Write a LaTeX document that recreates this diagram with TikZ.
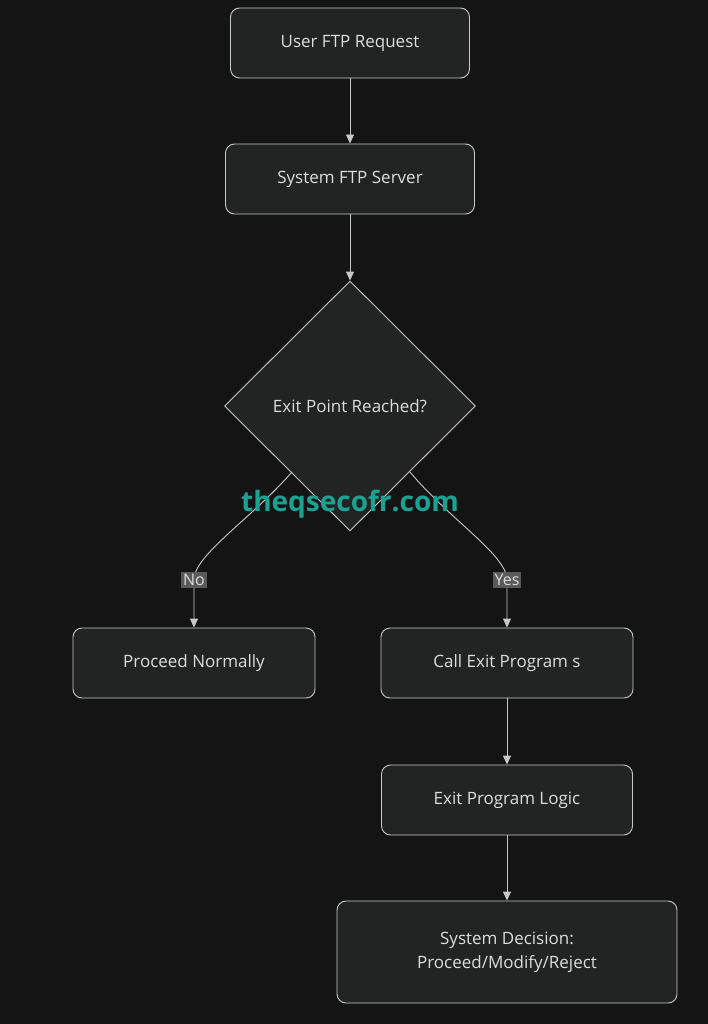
\documentclass[tikz,border=0pt]{standalone}
\usepackage{fontspec}
\setmainfont{Open Sans}
\usetikzlibrary{shapes.geometric,arrows.meta}
\definecolor{bg}{HTML}{141414}
\definecolor{boxfill}{HTML}{222323}
\definecolor{boxline}{HTML}{C8C8C8}
\definecolor{txt}{HTML}{DDDDDD}
\definecolor{lbl}{HTML}{5A5A5A}
\definecolor{wm}{HTML}{1AA393}
\begin{document}
\begin{tikzpicture}[x=1pt,y=-1pt,
  box/.style={draw=boxline,fill=boxfill,rounded corners=9pt,line width=0.9pt,text=txt,font=\fontsize{17}{24}\selectfont,align=center,inner sep=0pt},
  dia/.style={draw=boxline,fill=boxfill,diamond,line width=0.9pt,text=txt,font=\fontsize{17}{22}\selectfont,minimum width=251pt,minimum height=250pt,inner sep=0pt},
  lab/.style={fill=lbl,text=txt,font=\fontsize{16}{20}\selectfont,inner sep=2pt},
  arr/.style={draw=boxline,line width=0.9pt,-{Triangle[length=9pt,width=8pt]}}]
\fill[bg] (0,0) rectangle (708,1024);
\node[box,minimum width=239pt,minimum height=70pt] (a) at (350,43) {User FTP Request};
\node[box,minimum width=249pt,minimum height=70pt] (b) at (350,179) {System FTP Server};
\node[dia] (c) at (350,406) {Exit Point Reached?};
\node[box,minimum width=242pt,minimum height=70pt] (d) at (194,663) {Proceed Normally};
\node[box,minimum width=252pt,minimum height=70pt] (e) at (507,663) {Call Exit Program s};
\node[box,minimum width=251pt,minimum height=70pt] (f) at (507,800) {Exit Program Logic};
\node[box,minimum width=340pt,minimum height=102pt] (g) at (507,952) {System Decision:\\Proceed/Modify/Reject};
\coordinate (cl) at (292,472);
\coordinate (cr) at (410,472);
\draw[arr] (a) -- (b);
\draw[arr] (b) -- (c.north);
\node[lab] (no) at (194,580) {No};
\node[lab] (yes) at (507,580) {Yes};
\draw[arr] (cl) .. controls (250,520) and (194,555) .. (no.center) .. controls (194,600) and (194,610) .. (d.north);
\draw[arr] (cr) .. controls (450,520) and (507,555) .. (yes.center) .. controls (507,600) and (507,610) .. (e.north);
\node[lab] at (no) {No};
\node[lab] at (yes) {Yes};
\draw[arr] (e) -- (f);
\draw[arr] (f) -- (g);
\node[text=wm,font=\bfseries\fontsize{28}{30}\selectfont] (w) at (350,504) {theqsecofr.com};
\end{tikzpicture}
\end{document}
